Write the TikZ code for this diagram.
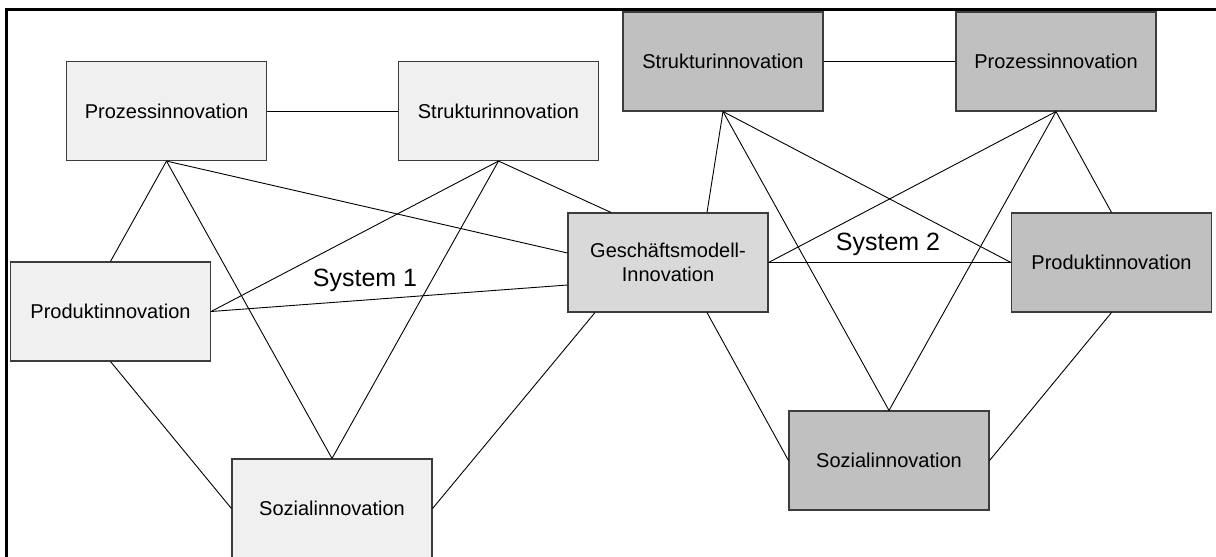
\documentclass[tikz,border=0pt]{standalone}
\usepackage{fontspec}
\setmainfont{Liberation Sans}
\usetikzlibrary{calc}
\definecolor{fillA}{RGB}{240,240,240}
\definecolor{fillG}{RGB}{217,217,217}
\definecolor{fillB}{RGB}{192,192,192}
\definecolor{edgeC}{RGB}{60,60,60}
\begin{document}
\begin{tikzpicture}[x=1pt,y=-1pt,
  box/.style={draw=edgeC, line width=1.1pt, minimum width=200pt, minimum height=99pt, inner sep=0pt, font=\fontsize{20}{24}\selectfont, align=center},
  boxA/.style={box, fill=fillA},
  boxG/.style={box, fill=fillG},
  boxB/.style={box, fill=fillB},
  conn/.style={draw=black, line width=0.9pt},
  syslabel/.style={font=\fontsize{25}{30}\selectfont, inner sep=0pt}
]
\useasboundingbox (0,0) rectangle (1216,557);
\clip (0,0) rectangle (1216,557);
\fill[white] (0,0) rectangle (1216,557);

% nodes
\node[boxA] (pl) at (166.5,111) {Prozessinnovation};
\node[boxA] (sl) at (498.5,111) {Strukturinnovation};
\node[boxA] (dl) at (110.5,311.5) {Produktinnovation};
\node[boxA] (zl) at (332,508.5) {Sozialinnovation};
\node[boxG] (g) at (668,262.5) {Geschäftsmodell-\\Innovation};
\node[boxB] (sr) at (723,61.5) {Strukturinnovation};
\node[boxB] (pr) at (1056,61.5) {Prozessinnovation};
\node[boxB] (dr) at (1111.5,262.5) {Produktinnovation};
\node[boxB] (zr) at (889,460.5) {Sozialinnovation};

% labels
\node[syslabel] (s1) at (365,280) {System 1};
\node[syslabel] (s2) at (888,244) {System 2};

% connection points on G
\coordinate (gl1) at ($(g.west)+(0,-9.5)$);
\coordinate (gl2) at ($(g.west)+(0,22.5)$);
\coordinate (gt1) at ($(g.north)+(-57,0)$);
\coordinate (gt2) at ($(g.north)+(39,0)$);
\coordinate (gb1) at ($(g.south)+(-73,0)$);
\coordinate (gb2) at ($(g.south)+(39,0)$);

\begin{scope}[on background layer/.style={}]
% system 1
\draw[conn] (pl.east) -- (sl.west);
\draw[conn] (pl.south) -- (dl.north);
\draw[conn] (pl.south) -- (zl.north);
\draw[conn] (pl.south) -- (gl1);
\draw[conn] (sl.south) -- (dl.east);
\draw[conn] (sl.south) -- (zl.north);
\draw[conn] (sl.south) -- (gt1);
\draw[conn] (dl.east) -- (gl2);
\draw[conn] (dl.south) -- (zl.west);
\draw[conn] (gb1) -- (zl.east);
% system 2
\draw[conn] (sr.east) -- (pr.west);
\draw[conn] (sr.south) -- (gt2);
\draw[conn] (sr.south) -- (zr.north);
\draw[conn] (sr.south) -- (dr.west);
\draw[conn] (pr.south) -- (g.east);
\draw[conn] (pr.south) -- (zr.north);
\draw[conn] (pr.south) -- (dr.north);
\draw[conn] (g.east) -- (dr.west);
\draw[conn] (gb2) -- (zr.west);
\draw[conn] (dr.south) -- (zr.east);
\end{scope}

% frame
\draw[line width=3pt] (6.5,560) -- (6.5,9.5) -- (1220,9.5);
\end{tikzpicture}
\end{document}
